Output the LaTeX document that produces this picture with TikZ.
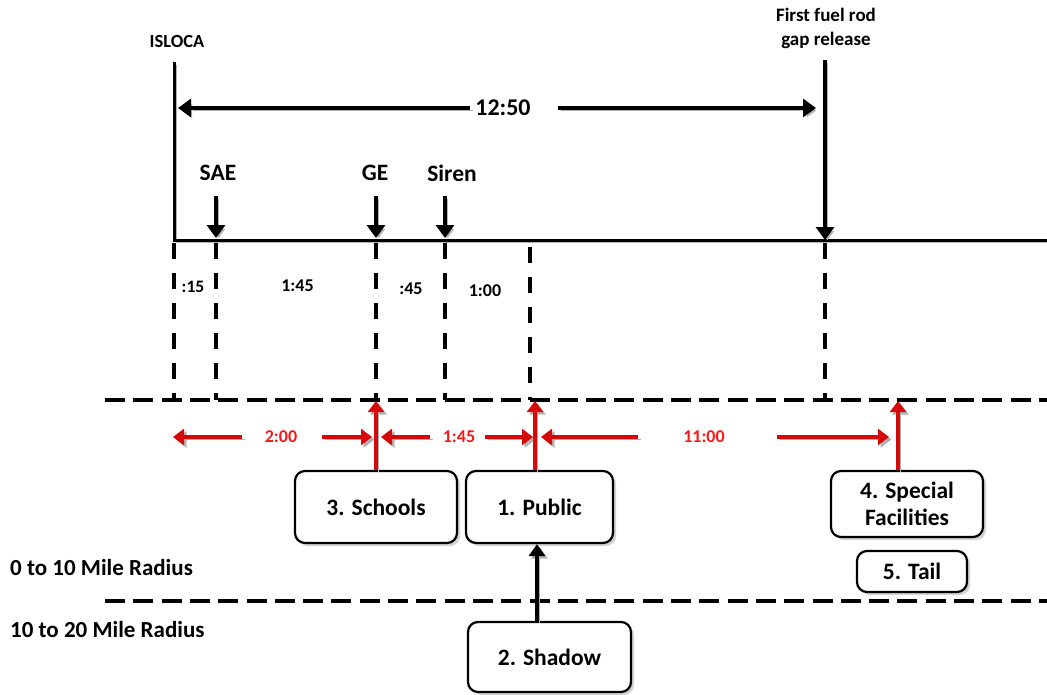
\documentclass[tikz,border=0pt]{standalone}
\usepackage{fontspec}
\setmainfont{Carlito}
\usetikzlibrary{arrows.meta,shadows}
\definecolor{rd}{RGB}{215,8,8}
\definecolor{rdt}{RGB}{245,25,25}
\begin{document}
\begin{tikzpicture}[x=1pt,y=-1pt,
  lbl/.style={font=\bfseries\fontsize{#1pt}{#1pt}\selectfont, inner sep=0pt},
  shd/.style={preaction={draw=black!30, transform canvas={shift={(2.5,2.5)}}}},
  blk/.style={draw=black, line width=3.2pt, -{Triangle[width=18pt,length=13pt]}},
  redarr/.style={draw=rd, line width=3.4pt, -{Triangle[width=16pt,length=11pt]}},
  tl/.style={draw=black, line width=3pt},
  vd/.style={draw=black, line width=3.4pt, dash pattern=on 16pt off 14pt},
  hd/.style={draw=black, line width=3.6pt, dash pattern=on 20pt off 8.3pt},
  box/.style={draw=black, line width=2.2pt, rounded corners=10pt, fill=white,
    drop shadow={shadow xshift=3pt, shadow yshift=-3pt, opacity=0.35},
    font=\bfseries\fontsize{23.5pt}{27pt}\selectfont, align=center, inner sep=0pt},
  rlbl/.style={lbl=18, text=rdt}
]
\useasboundingbox (0,0) rectangle (1047,694);

% coordinates
\coordinate (i0) at (174,62);
\coordinate (i1) at (174,240);
\coordinate (tEnd) at (1047,240);
\coordinate (f0) at (825,60);
\coordinate (f1) at (825,240);

% top labels
\node[lbl=18.5] (isloca) at (177,41) {ISLOCA};
\node[lbl=19, align=center, font=\bfseries\fontsize{19pt}{24pt}\selectfont] (fuel) at (826,28) {First fuel rod\\gap release};

% main timeline
\draw[tl, shd] (i0) -- (i1) -- (tEnd);
\draw[blk, shd] (f0) -- (f1);

% 12:50
\node[lbl=24] (t1250) at (503,108) {12:50};
\coordinate (aL0) at (470,108);
\coordinate (aL1) at (178,108);
\coordinate (aR0) at (558,108);
\coordinate (aR1) at (816,108);
\draw[blk, shd] (aL0) -- (aL1);
\draw[blk, shd] (aR0) -- (aR1);

% event labels and arrows
\node[lbl=23.5] (sae) at (218,173) {SAE};
\node[lbl=23.5] (ge) at (375,173) {GE};
\node[lbl=23.5] (siren) at (452,173) {Siren};
\coordinate (s0) at (216,196);
\coordinate (s1) at (216,238);
\coordinate (g0) at (376,196);
\coordinate (g1) at (376,238);
\coordinate (r0) at (445,196);
\coordinate (r1) at (445,238);
\draw[blk, shd] (s0) -- (s1);
\draw[blk, shd] (g0) -- (g1);
\draw[blk, shd] (r0) -- (r1);

% horizontal dashed lines
\coordinate (h1a) at (105,400);
\coordinate (h1b) at (1047,400);
\coordinate (h2a) at (105,601);
\coordinate (h2b) at (1047,601);
\draw[hd] (h1a) -- (h1b);
\draw[hd] (h2a) -- (h2b);

% vertical dashed lines
\coordinate (v1a) at (174,243); \coordinate (v1b) at (174,400);
\coordinate (v2a) at (216,243); \coordinate (v2b) at (216,400);
\coordinate (v3a) at (376,243); \coordinate (v3b) at (376,400);
\coordinate (v4a) at (445,243); \coordinate (v4b) at (445,400);
\coordinate (v5a) at (530,247); \coordinate (v5b) at (530,400);
\coordinate (v6a) at (825,243); \coordinate (v6b) at (825,400);
\draw[vd] (v1a) -- (v1b);
\draw[vd] (v2a) -- (v2b);
\draw[vd] (v3a) -- (v3b);
\draw[vd] (v4a) -- (v4b);
\draw[vd] (v5a) -- (v5b);
\draw[vd] (v6a) -- (v6b);

% interval labels
\node[lbl=17.5] (d15) at (193,287) {:15};
\node[lbl=18] (d145) at (297.5,286) {1:45};
\node[lbl=18] (d45) at (411,289) {:45};
\node[lbl=18] (d100) at (485,291) {1:00};

% red intervals
\node[rlbl] (r200) at (281,437) {2:00};
\node[rlbl] (r145) at (459,437) {1:45};
\node[rlbl] (r1100) at (704,437) {11:00};
\coordinate (a1) at (242,437); \coordinate (a1t) at (173,437);
\coordinate (a2) at (322,437); \coordinate (a2t) at (372,437);
\coordinate (a3) at (430,437); \coordinate (a3t) at (381,437);
\coordinate (a4) at (485,437); \coordinate (a4t) at (533,437);
\coordinate (a5) at (638,437); \coordinate (a5t) at (541,437);
\coordinate (a6) at (777,437); \coordinate (a6t) at (889,437);
\draw[redarr, shd] (a1) -- (a1t);
\draw[redarr, shd] (a2) -- (a2t);
\draw[redarr, shd] (a3) -- (a3t);
\draw[redarr, shd] (a4) -- (a4t);
\draw[redarr, shd] (a5) -- (a5t);
\draw[redarr, shd] (a6) -- (a6t);

% boxes
\node[box, minimum width=162pt, minimum height=72pt] (sch) at (376,507) {3. Schools};
\node[box, minimum width=147pt, minimum height=72pt] (pub) at (539.5,507) {1. Public};
\node[box, minimum width=163pt, minimum height=70pt] (shad) at (549.5,657) {2. Shadow};
\node[box, minimum width=152pt, minimum height=66pt] (spec) at (907,504) {4. Special\\Facilities};
\node[box, minimum width=110pt, minimum height=41pt] (tail) at (912,571.5) {5. Tail};

% red vertical arrows to the threshold line
\coordinate (gd) at (376,401);
\coordinate (pd) at (535,401);
\coordinate (sd) at (898,401);
\coordinate (shx) at (537,600);
\draw[redarr, shd] (sch.north -| gd) -- (gd);
\draw[redarr, shd] (pub.north -| pd) -- (pd);
\draw[redarr, shd] (spec.north -| sd) -- (sd);

% shadow to public
\draw[blk, line width=3.4pt, -{Triangle[width=16pt,length=12pt]}, shd] (shad.north -| shx) -- (pub.south -| shx);

% radius labels
\node[lbl=23, anchor=west] (rad1) at (10,568) {0 to 10 Mile Radius};
\node[lbl=23, anchor=west] (rad2) at (10,630) {10 to 20 Mile Radius};
\end{tikzpicture}
\end{document}
